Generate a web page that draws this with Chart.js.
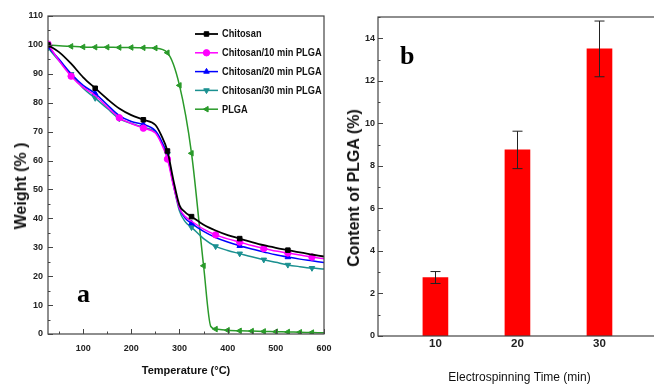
<!DOCTYPE html>
<html>
<head>
<meta charset="utf-8">
<script src="https://cdn.jsdelivr.net/npm/chart.js@4.4.0/dist/chart.umd.min.js"></script>
<style>
    body {
        margin: 0;
        width: 654px;
        height: 385px;
        overflow: hidden;
        background: #fff;
        position: relative;
        font-family: 'Liberation Sans', Arial, sans-serif;
    }
    #tgaChart { position: absolute; left: 0; top: 0; }
    #plgaChart { position: absolute; left: 330px; top: 0; }
    .tag {
        position: absolute;
        font: bold 26px/26px 'Liberation Serif', 'Times New Roman', serif;
        color: #000;
    }
    .ytitle {
        position: absolute;
        font: bold 16px/16px 'Liberation Sans', Arial, sans-serif;
        color: #111;
        white-space: nowrap;
        transform: translate(-50%, -50%) rotate(-90deg);
    }
</style>
</head>
<body>
<canvas id="tgaChart" width="335" height="385"></canvas>
<canvas id="plgaChart" width="340" height="385"></canvas>
<div class="tag" style="left:77px; top:281px;">a</div>
<div class="tag" style="left:400px; top:43px;">b</div>
<div class="ytitle" style="left:20.5px; top:186px;">Weight (% )</div>
<div class="ytitle" style="left:353.5px; top:188px;">Content of PLGA (%)</div>
<script>
// Panel a: TGA curves (temperature in C, weight in %)
const temps = [27, 50, 75, 100, 125, 150, 175, 200, 225, 250, 262, 275, 287, 300, 312, 325, 350, 375, 400, 425, 450, 475, 500, 525, 550, 575, 600];
const chitosan   = [100, 97.5, 93.5, 88.8, 85, 81.3, 78, 75.7, 74.1, 72.3, 68.8, 63.3, 53.5, 44.5, 42.1, 40.6, 37.8, 35.8, 34.2, 33, 31.8, 30.7, 29.8, 29, 28.2, 27.5, 26.8];
const chitosan10 = [100.3, 94.5, 89.2, 85.3, 82.5, 78.5, 74.8, 72.8, 71.2, 69.5, 66, 60.5, 51.5, 43.5, 40.6, 39, 36.3, 34.3, 32.9, 31.8, 30.6, 29.6, 28.7, 28, 27.3, 26.6, 26];
const chitosan20 = [99.3, 95, 90, 86, 83.2, 79.3, 75.5, 73.5, 72.5, 70.3, 67, 61.5, 52, 43.5, 40, 38.3, 35.5, 33.4, 31.8, 30.5, 29.4, 28.4, 27.4, 26.6, 25.9, 25.3, 24.7];
const chitosan30 = [99, 94.5, 89.9, 85, 81.6, 78, 74.5, 72.8, 71.5, 69.8, 66.5, 62.2, 52, 42.5, 38.8, 36.9, 33, 30.3, 28.9, 27.8, 26.7, 25.7, 24.8, 23.9, 23.3, 22.8, 22.5];
const plgaTemps = [27, 50, 75, 100, 125, 150, 175, 200, 225, 250, 275, 300, 325, 350, 365, 375, 400, 425, 450, 475, 500, 525, 550, 575, 600];
const plga = [100, 99.7, 99.5, 99.3, 99.2, 99.2, 99.1, 99.1, 99, 98.9, 97.3, 86, 62.5, 23.6, 2.6, 1.7, 1.3, 1.1, 1, 0.9, 0.8, 0.7, 0.6, 0.5, 0.4];

// temperatures where a marker symbol is drawn on each curve
const chitosanMarks   = [27, 125, 225, 275, 325, 425, 525];
const chitosan10Marks = [27, 75, 175, 225, 275, 375, 425, 475, 525, 575];
const chitosan20Marks = [27, 125, 225, 325, 425, 525];
const chitosan30Marks = [27, 75, 125, 175, 225, 275, 325, 375, 425, 475, 525, 575];
const plgaMarks = [27, 75, 100, 125, 150, 175, 200, 225, 250, 275, 300, 325, 350, 375, 400, 425, 450, 475, 500, 525, 550, 575];

const tempTicks = [100, 200, 300, 400, 500, 600];
const weightTicks = [0, 10, 20, 30, 40, 50, 60, 70, 80, 90, 100, 110];

// Panel b: PLGA content vs electrospinning time
const spinTimes = [10, 20, 30];
const plgaContent = [2.75, 8.75, 13.5];
const contentErr = [0.28, 0.88, 1.31];
const contentTicks = [0, 2, 4, 6, 8, 10, 12, 14];

const tickFont = { family: 'Liberation Sans', weight: 'bold', size: 9 };

function midpoints(list) {
    const out = [];
    for (let i = 0; i < list.length - 1; i++) out.push((list[i] + list[i + 1]) / 2);
    return out;
}

function toPoints(xs, ys) {
    return xs.map((x, i) => ({ x: x, y: ys[i] }));
}

function markerRadius(xs, marks, r) {
    return ctx => marks.includes(xs[ctx.dataIndex]) ? r : 0;
}

// frame + inward tick marks
const frameTicks = {
    id: 'frameTicks',
    afterDraw(chart, args, opts) {
        const ctx = chart.ctx;
        const area = chart.chartArea;
        ctx.save();
        ctx.strokeStyle = '#444';
        ctx.lineWidth = 1.2;
        ctx.strokeRect(area.left, area.top, area.right - area.left, area.bottom - area.top);
        ctx.lineWidth = 1;
        (opts.axes || []).forEach(a => {
            const scale = chart.scales[a.id];
            const draw = (v, len) => {
                const p = Math.round(scale.getPixelForValue(v)) + 0.5;
                ctx.beginPath();
                if (a.id === 'y') {
                    ctx.moveTo(area.left, p);
                    ctx.lineTo(area.left + len, p);
                } else {
                    ctx.moveTo(p, area.bottom);
                    ctx.lineTo(p, area.bottom - len);
                }
                ctx.stroke();
            };
            a.major.forEach(v => draw(v, 5));
            a.minor.forEach(v => draw(v, 2.5));
        });
        ctx.restore();
    }
};

// legend drawn inside the plot area (narrow text like the original)
const insideLegend = {
    id: 'insideLegend',
    afterDraw(chart, args, opts) {
        if (!opts.show) return;
        const ctx = chart.ctx;
        ctx.save();
        chart.data.datasets.forEach((ds, i) => {
            const y = opts.y + i * opts.gap;
            ctx.strokeStyle = ds.borderColor;
            ctx.fillStyle = ds.borderColor;
            ctx.lineWidth = ds.borderWidth;
            ctx.beginPath();
            ctx.moveTo(opts.x, y);
            ctx.lineTo(opts.x + opts.len, y);
            ctx.stroke();
            ctx.lineWidth = 1;
            Chart.helpers.drawPoint(ctx, {
                pointStyle: ds.pointStyle,
                rotation: ds.pointRotation || 0,
                radius: 3.2,
                borderWidth: 1
            }, opts.x + opts.len / 2, y);
            ctx.save();
            ctx.translate(opts.x + opts.len + 4, y + 0.5);
            ctx.scale(0.88, 1);
            ctx.fillStyle = '#111';
            ctx.font = 'bold 10.5px "Liberation Sans", Arial, sans-serif';
            ctx.textBaseline = 'middle';
            ctx.fillText(ds.label, 0, 0);
            ctx.restore();
        });
        ctx.restore();
    }
};

function lineSet(label, xs, ys, marks, color, style, rotation, width) {
    return {
        label: label,
        data: toPoints(xs, ys),
        borderColor: color,
        backgroundColor: color,
        borderWidth: width,
        pointStyle: style,
        pointRotation: rotation,
        pointRadius: markerRadius(xs, marks, 3.2),
        pointBorderWidth: 1,
        cubicInterpolationMode: 'monotone'
    };
}

new Chart(document.getElementById('tgaChart'), {
    type: 'line',
    data: {
        datasets: [
            lineSet('Chitosan', temps, chitosan, chitosanMarks, '#000000', 'rect', 0, 1.8),
            lineSet('Chitosan/10 min PLGA', temps, chitosan10, chitosan10Marks, '#ff00ff', 'circle', 0, 1.5),
            lineSet('Chitosan/20 min PLGA', temps, chitosan20, chitosan20Marks, '#0000ff', 'triangle', 0, 1.5),
            lineSet('Chitosan/30 min PLGA', temps, chitosan30, chitosan30Marks, '#1a9090', 'triangle', 180, 1.5),
            lineSet('PLGA', plgaTemps, plga, plgaMarks, '#2a9a2a', 'triangle', -90, 1.5)
        ]
    },
    options: {
        responsive: false,
        animation: false,
        layout: { padding: { top: 16, right: 11, left: 0, bottom: 0 } },
        plugins: {
            legend: { display: false },
            tooltip: { enabled: false },
            frameTicks: {
                axes: [
                    { id: 'x', major: tempTicks, minor: [50].concat(midpoints(tempTicks)) },
                    { id: 'y', major: weightTicks, minor: midpoints(weightTicks) }
                ]
            },
            insideLegend: { show: true, x: 195, y: 34, gap: 18.8, len: 23 }
        },
        scales: {
            x: {
                type: 'linear',
                min: 27,
                max: 600,
                grid: { display: false, drawTicks: false },
                border: { display: false },
                afterBuildTicks: s => { s.ticks = tempTicks.map(v => ({ value: v })); },
                afterFit: s => { s.height = 51; s.paddingLeft = 0; s.paddingRight = 0; },
                ticks: { font: tickFont, color: '#222', padding: 9, maxRotation: 0 },
                title: {
                    display: true,
                    text: 'Temperature (\u00b0C)',
                    color: '#111',
                    font: { family: 'Liberation Sans', weight: 'bold', size: 11 },
                    padding: { bottom: 7 }
                }
            },
            y: {
                min: 0,
                max: 110,
                grid: { display: false, drawTicks: false },
                border: { display: false },
                afterBuildTicks: s => { s.ticks = weightTicks.map(v => ({ value: v })); },
                afterFit: s => { s.width = 48; },
                ticks: { font: tickFont, color: '#222', padding: 5 }
            }
        }
    },
    plugins: [frameTicks, insideLegend]
});

// error bars for panel b
const errorBars = {
    id: 'errorBars',
    afterDatasetsDraw(chart) {
        const ctx = chart.ctx;
        const xs = chart.scales.x;
        const ys = chart.scales.y;
        ctx.save();
        ctx.strokeStyle = '#222';
        ctx.lineWidth = 1;
        spinTimes.forEach((t, i) => {
            const px = Math.round(xs.getPixelForValue(t)) + 0.5;
            const hi = ys.getPixelForValue(plgaContent[i] + contentErr[i]);
            const lo = ys.getPixelForValue(plgaContent[i] - contentErr[i]);
            ctx.beginPath();
            ctx.moveTo(px, hi);
            ctx.lineTo(px, lo);
            ctx.moveTo(px - 5, hi);
            ctx.lineTo(px + 5, hi);
            ctx.moveTo(px - 5, lo);
            ctx.lineTo(px + 5, lo);
            ctx.stroke();
        });
        ctx.restore();
    }
};

new Chart(document.getElementById('plgaChart'), {
    type: 'bar',
    data: {
        datasets: [{
            label: 'Content of PLGA',
            data: toPoints(spinTimes, plgaContent),
            backgroundColor: '#ff0000',
            borderWidth: 0,
            barThickness: 25
        }]
    },
    options: {
        responsive: false,
        animation: false,
        layout: { padding: { top: 17, right: 9, left: 0, bottom: 0 } },
        plugins: {
            legend: { display: false },
            tooltip: { enabled: false },
            frameTicks: {
                axes: [
                    { id: 'y', major: contentTicks, minor: midpoints(contentTicks.concat([16])) }
                ]
            }
        },
        scales: {
            x: {
                type: 'linear',
                offset: false,
                min: 3,
                max: 37.5,
                grid: { display: false, drawTicks: false, offset: false },
                border: { display: false },
                afterBuildTicks: s => { s.ticks = spinTimes.map(v => ({ value: v })); },
                afterFit: s => { s.height = 49; s.paddingLeft = 0; s.paddingRight = 0; },
                ticks: { font: { family: 'Liberation Sans', weight: 'bold', size: 11.5 }, color: '#222', padding: 1, maxRotation: 0 },
                title: {
                    display: true,
                    text: 'Electrospinning Time (min)',
                    color: '#111',
                    font: { family: 'Liberation Sans', size: 12 },
                    padding: { bottom: 0 }
                }
            },
            y: {
                min: 0,
                max: 15,
                grid: { display: false, drawTicks: false },
                border: { display: false },
                afterBuildTicks: s => { s.ticks = contentTicks.map(v => ({ value: v })); },
                afterFit: s => { s.width = 48; },
                ticks: { font: tickFont, color: '#222', padding: 3 }
            }
        }
    },
    plugins: [frameTicks, errorBars]
});
</script>
</body>
</html>
